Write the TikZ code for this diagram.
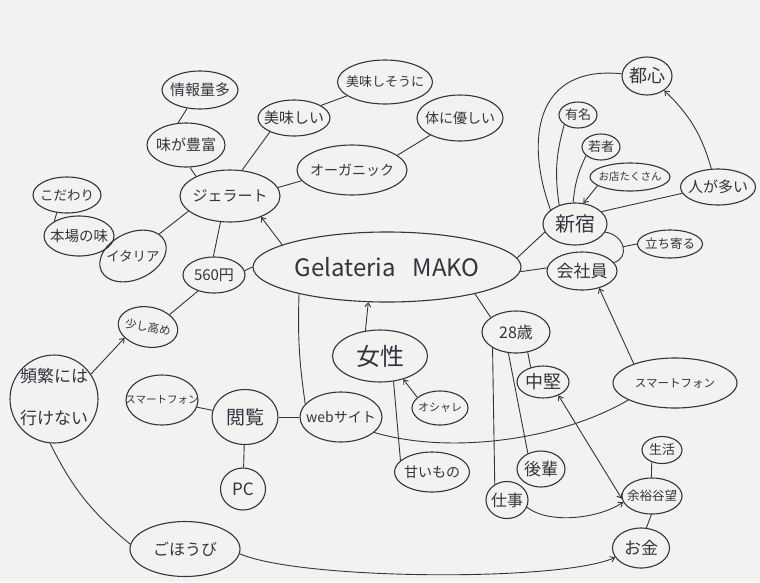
\documentclass[tikz,border=0pt]{standalone}
\usepackage{fontspec}
\newfontfamily\jp{Noto Sans CJK JP}
\usetikzlibrary{shapes.geometric,arrows.meta}
\definecolor{ink}{HTML}{34343F}
\definecolor{paper}{HTML}{F2F2F0}
% zero-width label so the ellipse keeps its given size
\newcommand\lbl[1]{\makebox[0pt]{#1}}
\begin{document}
\begin{tikzpicture}[x=1pt,y=-1pt,
  bub/.style n args={3}{ellipse,draw=ink,line width=1.1pt,inner sep=0pt,
    minimum width=#1,minimum height=#2,text=ink,font=\jp\fontsize{#3}{#3}\selectfont},
  conn/.style={draw=ink,line width=0.9pt},
  arrowend/.style={-{Straight Barb[length=4pt,width=6pt]}},
  arrowboth/.style={{Straight Barb[length=4pt,width=6pt]}-{Straight Barb[length=4pt,width=6pt]}},
  ]
\fill[paper] (0,0) rectangle (760,582);
\useasboundingbox (0,0) rectangle (760,582);

% ---- nodes ----
\node[bub={268}{70}{24}] (mako) at (387,267) {\lbl{Gelateria\hspace{0.7em}MAKO}};
\node[bub={100}{52}{15}] (gelato) at (230,196) {\lbl{ジェラート}};
\node[bub={78}{44}{15}] (aji) at (186,145) {\lbl{味が豊富}};
\node[bub={76}{38}{15}] (joho) at (200,90) {\lbl{情報量多}};
\node[bub={68}{36}{13.5}] (kodawari) at (67,195) {\lbl{こだわり}};
\node[bub={70}{40}{14.5}] (honba) at (79,236) {\lbl{本場の味}};
% tilted ellipse, level text
\node[bub={70}{46}{13.5},rotate=25] (italia) at (133,256) {\lbl{\rotatebox{-25}{イタリア}}};
\node[bub={62}{36}{15}] (yen) at (214,275) {\lbl{560円}};
\node[bub={72}{36}{15}] (oishii) at (294,118) {\lbl{美味しい}};
\node[bub={95}{44}{13}] (oishisou) at (385,82) {\lbl{美味しそうに}};
\node[bub={110}{50}{14}] (organic) at (352,170) {\lbl{オーガニック}};
\node[bub={86}{46}{14}] (karada) at (460,118) {\lbl{体に優しい}};
\node[bub={50}{38}{18}] (toshin) at (647,76) {\lbl{都心}};
\node[bub={38}{26}{13}] (yumei) at (578,115) {\lbl{有名}};
\node[bub={38}{26}{13}] (wakamono) at (601,147) {\lbl{若者}};
\node[bub={80}{28}{10.5}] (omise) at (630,177) {\lbl{お店たくさん}};
\node[bub={75}{36}{15}] (hito) at (718,187) {\lbl{人が多い}};
\node[bub={64}{42}{20}] (shinjuku) at (575,224) {\lbl{新宿}};
\node[bub={65}{28}{12.5}] (tachi) at (670,244) {\lbl{立ち寄る}};
\node[bub={70}{38}{17}] (kaisha) at (582,271) {\lbl{会社員}};
\node[bub={60}{40}{11.5},rotate=-10] (sukoshi) at (148,327) {\lbl{少し高め}};
\node[bub={88}{88}{17}] (hinpan) at (54,399)
  {\lbl{\begin{tabular}{@{}c@{}}頻繁には\\[22pt]行けない\end{tabular}}};
\node[bub={72}{50}{10.5}] (sumaho1) at (162,400) {\lbl{スマートフォン}};
\node[bub={66}{55}{19}] (etsuran) at (245,417) {\lbl{閲覧}};
\node[bub={45}{42}{17}] (pc) at (243,489) {\lbl{PC}};
\node[bub={82}{50}{14}] (web) at (341,417) {\lbl{webサイト}};
\node[bub={95}{52}{24}] (josei) at (380,356) {\lbl{女性}};
\node[bub={56}{34}{11}] (oshare) at (440,408) {\lbl{オシャレ}};
\node[bub={75}{40}{14}] (amai) at (432,472) {\lbl{甘いもの}};
\node[bub={68}{42}{16}] (age) at (516,332) {\lbl{28歳}};
\node[bub={52}{32}{18}] (chuken) at (543,382) {\lbl{中堅}};
\node[bub={48}{36}{17}] (kohai) at (541,469) {\lbl{後輩}};
\node[bub={42}{37}{16}] (shigoto) at (507,500) {\lbl{仕事}};
\node[bub={124}{50}{11.5}] (sumaho2) at (675,383) {\lbl{スマートフォン}};
\node[bub={40}{27}{13}] (seikatsu) at (662,450) {\lbl{生活}};
\node[bub={60}{36}{12.5}] (yoyu) at (652,496) {\lbl{余裕谷望}};
\node[bub={57}{40}{17}] (okane) at (641,548) {\lbl{お金}};
\node[bub={110}{55}{16}] (gohobi) at (185,549) {\lbl{ごほうび}};

% ---- connectors ----
\draw[conn,arrowend] (mako.168) -- (gelato.-34);
\draw[conn] (gelato.150) -- (aji.-80);
\draw[conn] (aji.110) -- (joho.-125);
\draw[conn] (gelato.65) -- (oishii.-150);
\draw[conn] (oishii.25) -- (oishisou.-160);
\draw[conn] (gelato.10) -- (organic.192);
\draw[conn] (organic.18) -- (karada.-150);
\draw[conn] (gelato.200) -- (italia.15);
\draw[conn] (italia) -- (honba);
\draw[conn] (honba.149) -- (kodawari.-120);
\draw[conn] (gelato.-110) -- (yen.92);
\draw[conn] (yen.8) -- (mako.180);
\draw[conn] (yen.-135) -- (sukoshi.40);
\draw[conn,arrowend] (hinpan.34) -- (sukoshi.215);
\draw[conn] (hinpan.-95) to[bend right=12] (gohobi.175);
\draw[conn,arrowend] (gohobi.-5) .. controls (300,580) and (560,582) .. (okane.200);

\draw[conn] (mako.4) -- (shinjuku.195);
\draw[conn] (mako.-2) -- (kaisha.175);
\draw[conn] (shinjuku.150) .. controls (525,140) and (535,65) .. (toshin.175);
\draw[conn] (shinjuku.130) to[bend left=12] (yumei.-145);
\draw[conn] (shinjuku.95) to[bend left=10] (wakamono.-150);
\draw[conn,arrowend] (omise.-165) -- (shinjuku.68);
\draw[conn] (shinjuku.25) -- (hito.190);
\draw[conn,arrowend] (hito.110) to[bend right=15] (toshin.-40);
\draw[conn] (shinjuku.-15) .. controls (625,235) and (630,258) .. (kaisha.15)
  coordinate[pos=0.5] (tj);
\draw[conn] (tj) -- (tachi.west);
\draw[conn,arrowend] (sumaho2.155) -- (kaisha.-45);
\draw[conn] (sumaho2.200) .. controls (560,440) and (450,455) .. (web.-25);

\draw[conn] (mako.197) to[bend right=5] (web.160);
\draw[conn,arrowend] (josei.120) -- (mako.-118);
\draw[conn] (mako.-17) -- (age.150);
\draw[conn,arrowend] (oshare.155) -- (josei.-45);
\draw[conn] (josei.-62) -- (amai.160);
\draw[conn] (sumaho1) -- (etsuran);
\draw[conn] (etsuran) -- (web);
\draw[conn] (etsuran) -- (pc);

\draw[conn] (age.-60) -- (chuken.130);
\draw[conn] (age.-110) -- (kohai.130);
\draw[conn] (age.-146) -- (shigoto.128);
\draw[conn,arrowboth] (chuken.-41) -- (yoyu.185);
\draw[conn,arrowend] (shigoto.-20) .. controls (550,525) and (600,518) .. (yoyu.192);
\draw[conn] (yoyu.92) -- (seikatsu.-130);
\draw[conn] (yoyu.-92) -- (okane.75);
\end{tikzpicture}
\end{document}
